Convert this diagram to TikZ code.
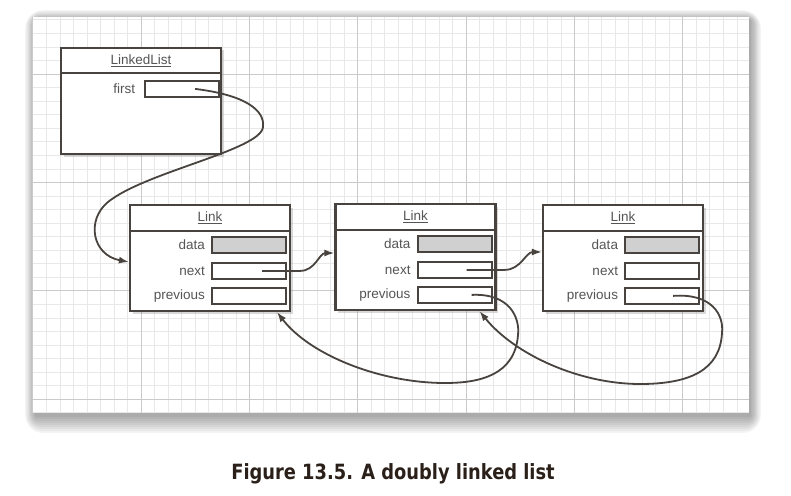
\documentclass[tikz,border=0pt]{standalone}
\usepackage{fontspec}
\setmainfont{Liberation Sans}
\newfontfamily\capfont[FakeStretch=0.85]{DejaVu Sans}
\usepackage{tikz}
\usetikzlibrary{arrows.meta,positioning,shadows}

\definecolor{ink}{HTML}{48433E}
\definecolor{labelgray}{HTML}{555555}
\definecolor{datagray}{HTML}{D0D0D0}
\definecolor{minorgrid}{HTML}{E8E8E8}
\definecolor{majorgrid}{HTML}{CACACA}
\definecolor{captext}{HTML}{2A2019}

\tikzset{
  objbox/.style={draw=ink, line width=2.2pt, fill=white, inner sep=0pt,
    minimum width=160pt, minimum height=106pt,
    drop shadow={shadow xshift=2.5pt, shadow yshift=-2.5pt, opacity=.3}},
  fieldbox/.style={draw=ink, line width=1.8pt, fill=white, inner sep=0pt,
    minimum width=74pt, minimum height=16.5pt},
  fieldname/.style={text=labelgray, font=\fontsize{13.5}{15}\selectfont, inner sep=0pt},
  pointer/.style={draw=ink, line width=1.8pt, -{Latex[length=10pt,width=7pt]}},
}

\begin{document}
\begin{tikzpicture}[x=1pt,y=-1pt]
\useasboundingbox (0,0) rectangle (791,495);

% paper with its shadow
\foreach \s in {2,4,...,18}
  \fill[black, opacity=.045, rounded corners=\s pt] (32-\s*0.6+4,17-\s*0.6+4) rectangle (749+\s*0.6+1,413+\s*1.0+2);
\fill[white] (32,17) rectangle (749,413);

% grid paper
\begin{scope}
  \clip (32,17) rectangle (749,413);
  \foreach \i in {0,...,53}
    \draw[minorgrid, line width=.7pt] ({32.8+\i*13.54},17) -- ++(0,396);
  \foreach \j in {-5,...,25}
    \draw[minorgrid, line width=.7pt] (32,{74+\j*13.55}) -- ++(717,0);
  \foreach \i in {0,...,6}
    \draw[majorgrid, line width=1pt] ({32.8+\i*108.3},17) -- ++(0,396);
  \foreach \j in {0,...,3}
    \draw[majorgrid, line width=1pt] (32,{74+\j*108.4}) -- ++(717,0);
\end{scope}

% the list object
\node[objbox] (list) at (141,101) {};
\draw[ink, line width=2pt] ([yshift=-26pt]list.north west) -- ([yshift=-26pt]list.north east);
\node[fieldname] (list-name) at ([yshift=-14pt]list.north) {\underline{LinkedList}};
\node[fieldbox] (list-first) at ([xshift=-40pt,yshift=-42pt]list.north east) {};
\node[fieldname, anchor=east] (list-firstlbl) at ([xshift=-9pt]list-first.west) {first};

% the three links
\foreach \n/\x/\y in {a/210/258, b/415.5/257, c/623/258} {
  \node[objbox] (\n) at (\x,\y) {};
  \draw[ink, line width=2pt] ([yshift=-27pt]\n.north west) -- ([yshift=-27pt]\n.north east);
  \node[fieldname] (\n-name) at ([yshift=-14pt]\n.north) {\underline{Link}};
  \node[fieldbox, fill=datagray] (\n-data) at ([xshift=-42pt,yshift=-41pt]\n.north east) {};
  \node[fieldbox] (\n-next) at ([xshift=-42pt,yshift=-67pt]\n.north east) {};
  \node[fieldbox] (\n-prev) at ([xshift=-42pt,yshift=-92pt]\n.north east) {};
  \node[fieldname, anchor=east] (\n-datalbl) at ([xshift=-6pt]\n-data.west) {data};
  \node[fieldname, anchor=east] (\n-nextlbl) at ([xshift=-6pt]\n-next.west) {next};
  \node[fieldname, anchor=east] (\n-prevlbl) at ([xshift=-6pt]\n-prev.west) {previous};
}

% first
\draw[pointer] ([xshift=13pt]list-first.center) .. controls (245,95) and (265,110) .. (263,127)
  .. controls (261,150) and (145,172) .. (108,202) .. controls (86,220) and (92,255) .. ([yshift=-4pt]a.west);

% next
\draw[pointer] ([xshift=13pt]a-next.center) -- ++(38,0) to[out=0,in=180] ([yshift=4pt]b.west);
\draw[pointer] ([xshift=12pt]b-next.center) -- ++(38,0) to[out=0,in=180] ([yshift=6pt]c.west);

% previous
\draw[pointer] ([xshift=17pt]b-prev.center) .. controls (510,293) and (520,318) .. (518,335)
  .. controls (515,375) and (480,383) .. (445,383) .. controls (380,383) and (310,355) .. ([xshift=67pt]a.south);
\draw[pointer] ([xshift=11pt]c-prev.center) .. controls (712,293) and (724,315) .. (722,333)
  .. controls (720,370) and (690,384) .. (640,384) .. controls (580,384) and (515,355) .. ([xshift=64pt]b.south);

\node[text=captext, font=\capfont\bfseries\fontsize{21}{24}\selectfont, inner sep=0pt] (caption) at (393,474) {Figure 13.5. A doubly linked list};
\end{tikzpicture}
\end{document}
